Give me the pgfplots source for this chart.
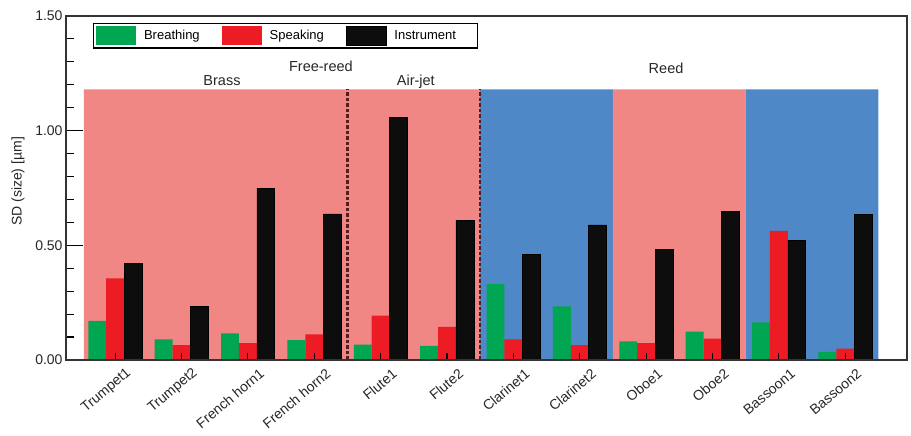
\documentclass[border=0pt]{standalone}
\usepackage{pgfplots}
\pgfplotsset{compat=1.18}
\usepackage{pgfplotstable}
\usepackage{fontspec}
\setmainfont{Liberation Sans}
\definecolor{cgreen}{RGB}{0,166,81}
\definecolor{cred}{RGB}{237,28,36}
\definecolor{cblack}{RGB}{13,13,13}
\definecolor{cpink}{RGB}{241,135,132}
\definecolor{cblue}{RGB}{79,136,199}
\definecolor{cdash}{RGB}{85,30,30}

\pgfplotstableread{
x br sp in
0 0.170 0.356 0.420
1 0.090 0.065 0.235
2 0.116 0.073 0.749
3 0.087 0.112 0.637
4 0.067 0.193 1.057
5 0.062 0.144 0.609
6 0.331 0.090 0.461
7 0.234 0.065 0.589
8 0.081 0.074 0.481
9 0.124 0.093 0.648
10 0.164 0.563 0.522
11 0.035 0.049 0.634
}\data

\begin{document}
\begin{tikzpicture}
\begin{axis}[
  scale only axis, width=841bp, height=344bp,
  xmin=-0.74, xmax=11.93, ymin=0, ymax=1.5,
  axis on top, clip=false,
  xtick={0,...,11},
  xticklabels={Trumpet1,Trumpet2,French horn1,French horn2,Flute1,Flute2,Clarinet1,Clarinet2,Oboe1,Oboe2,Bassoon1,Bassoon2},
  xtick pos=bottom, ytick pos=left,
  ytick={0,0.5,1,1.5},
  xtick style={draw=none},
  ytick style={draw=none},
  axis line style={line width=1.2bp, black!80},
  /pgf/number format/assume math mode=true,
  yticklabel style={/pgf/number format/.cd, fixed, fixed zerofill, precision=2, /tikz/.cd, font=\fontsize{14bp}{16bp}\selectfont, text=black!85},
  xticklabel style={xshift=15bp, yshift=-11bp, rotate=40, anchor=east, inner sep=1bp, font=\fontsize{14bp}{16bp}\selectfont, text=black!85},
  ylabel={SD (size) [µm]},
  every axis y label/.style={at={(rel axis cs:-0.057,0.519)}, rotate=90, anchor=center, font=\fontsize{14bp}{16bp}\selectfont, text=black!85},
  legend style={at={(rel axis cs:0.032,0.98)}, anchor=north west, draw=black, line width=1.3bp,
    font=\fontsize{13bp}{15bp}\selectfont, legend columns=3, inner sep=2.5bp,
    /tikz/every odd column/.append style={column sep=6bp},
    /tikz/every even column/.append style={column sep=20bp}},
  legend image code/.code={\fill[#1] (0bp,-9.5bp) rectangle (40bp,9.5bp);},
]
% background regions
\addplot[fill=cpink, draw=none, forget plot] coordinates {(-0.47,0) (-0.47,1.18) (5.5,1.18) (5.5,0)} \closedcycle;
\addplot[fill=cblue, draw=none, forget plot] coordinates {(5.5,0) (5.5,1.18) (7.5,1.18) (7.5,0)} \closedcycle;
\addplot[fill=cpink, draw=none, forget plot] coordinates {(7.5,0) (7.5,1.18) (9.5,1.18) (9.5,0)} \closedcycle;
\addplot[fill=cblue, draw=none, forget plot] coordinates {(9.5,0) (9.5,1.18) (11.5,1.18) (11.5,0)} \closedcycle;
% dashed separators
\addplot[cdash, line width=2.2bp, dash pattern=on 3.5bp off 2bp, forget plot] coordinates {(3.5,0) (3.5,1.18)};
\addplot[cdash, line width=2.2bp, dash pattern=on 3.5bp off 2bp, forget plot] coordinates {(5.5,0) (5.5,1.18)};
% bars
\addplot[ybar, bar width=0.27, bar shift=-0.27, fill=cgreen, draw=none] table[x=x,y=br]{\data};
\addplot[ybar, bar width=0.27, bar shift=0, fill=cred, draw=none] table[x=x,y=sp]{\data};
\addplot[ybar, bar width=0.27, bar shift=0.27, fill=cblack, draw=black, line width=0.6bp] table[x=x,y=in]{\data};
\legend{Breathing,Speaking,Instrument\hspace{17bp}\mbox{}}
% small x ticks at group centres
\addplot[ycomb, black, line width=1.2bp, mark=none, forget plot] coordinates {(0,0.031) (1,0.031) (2,0.031) (3,0.031) (4,0.031) (5,0.031) (6,0.031) (7,0.031) (8,0.031) (9,0.031) (10,0.031) (11,0.031)};
% y major ticks (inside, long)
\addplot[black, line width=1.3bp, unbounded coords=jump, mark=none, forget plot] coordinates {(-0.74,0.5) (-0.484,0.5) (-0.6,nan) (-0.74,1.0) (-0.484,1.0)};
% y minor ticks (inside, short)
\addplot[black, line width=1.1bp, unbounded coords=jump, mark=none, forget plot] coordinates {
(-0.74,0.1) (-0.62,0.1) (-0.7,nan) (-0.74,0.2) (-0.62,0.2) (-0.7,nan) (-0.74,0.3) (-0.62,0.3) (-0.7,nan) (-0.74,0.4) (-0.62,0.4) (-0.7,nan)
(-0.74,0.6) (-0.62,0.6) (-0.7,nan) (-0.74,0.7) (-0.62,0.7) (-0.7,nan) (-0.74,0.8) (-0.62,0.8) (-0.7,nan) (-0.74,0.9) (-0.62,0.9) (-0.7,nan)
(-0.74,1.1) (-0.62,1.1) (-0.7,nan) (-0.74,1.2) (-0.62,1.2) (-0.7,nan) (-0.74,1.3) (-0.62,1.3) (-0.7,nan) (-0.74,1.4) (-0.62,1.4)};
% group labels
\node[anchor=base, font=\fontsize{14.5bp}{16bp}\selectfont, text=black!85] at (axis cs:1.61,1.195) {Brass};
\node[anchor=base, font=\fontsize{14.5bp}{16bp}\selectfont, text=black!85] at (axis cs:3.10,1.257) {Free-reed};
\node[anchor=base, font=\fontsize{14.5bp}{16bp}\selectfont, text=black!85] at (axis cs:4.53,1.195) {Air-jet};
\node[anchor=base, font=\fontsize{14.5bp}{16bp}\selectfont, text=black!85] at (axis cs:8.30,1.250) {Reed};
% thicker left/bottom axis lines
\draw[line width=2bp, black] (rel axis cs:0,1) -- (rel axis cs:0,0) -- (rel axis cs:1,0);
\coordinate (bbl) at (rel axis cs:-0.0785,-0.2209);
\coordinate (btr) at (rel axis cs:1.00476,1.0465);
\end{axis}
\path (bbl) rectangle (btr);
\end{tikzpicture}
\end{document}
